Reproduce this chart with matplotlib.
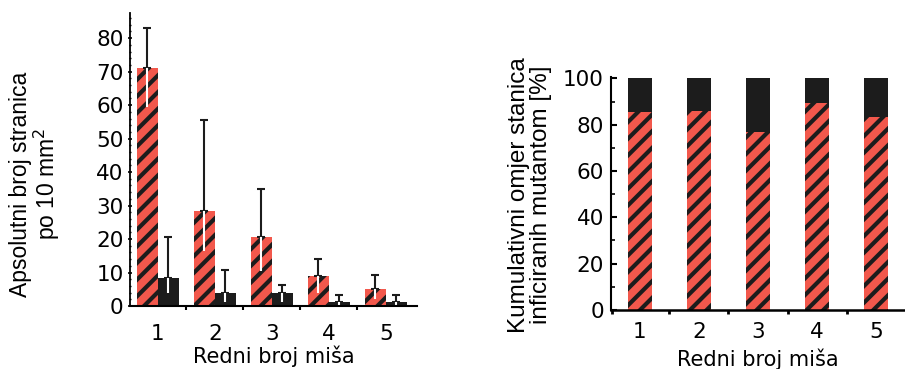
import numpy as np
import matplotlib.pyplot as plt
from matplotlib.ticker import MultipleLocator

# podaci
mice = [1, 2, 3, 4, 5]
mut_abs = [71, 28.5, 20.5, 9, 5.2]
mut_hi = [12, 27, 14.5, 5, 4]
mut_lo = [11.5, 12, 10, 5, 3]
wt_abs = [8.5, 3.8, 3.8, 1.3, 1.3]
wt_hi = [12, 7, 2.5, 2, 2]
wt_lo = [4.7, 2.5, 2.5, 1, 1]

mut_pct = [85.5, 86, 77, 89.5, 83.5]
wt_pct = [14.5, 14, 23, 10.5, 16.5]

RED = "#f2584c"
DARK = "#1c1c1c"

plt.rcParams["font.family"] = ["DejaVu Sans"]
plt.rcParams["hatch.linewidth"] = 3.0
plt.rcParams["hatch.color"] = DARK

fig = plt.figure(figsize=(9.05, 3.69), dpi=100)
ax1 = fig.add_axes([0.1436, 0.1707, 0.317, 0.794])
ax2 = fig.add_axes([0.675, 0.160, 0.325, 0.6306])

x = np.array(mice)

# lijevi graf
w = 0.37
ax1.bar(x - w/2, mut_abs, w, color=RED, edgecolor=DARK, hatch="//", linewidth=0)
ax1.bar(x + w/2, wt_abs, w, color=DARK, edgecolor=DARK, linewidth=0)
ax1.errorbar(x - w/2, mut_abs, yerr=[[0]*5, mut_hi], fmt="none", ecolor=DARK,
             elinewidth=1.5, capsize=3, capthick=1.5)
ax1.errorbar(x - w/2, mut_abs, yerr=[mut_lo, [0]*5], fmt="none", ecolor="white",
             elinewidth=1.5, capsize=0)
ax1.errorbar(x + w/2, wt_abs, yerr=[[0]*5, wt_hi], fmt="none", ecolor=DARK,
             elinewidth=1.5, capsize=3, capthick=1.5)
ax1.errorbar(x + w/2, wt_abs, yerr=[wt_lo, [0]*5], fmt="none", ecolor="white",
             elinewidth=1.5, capsize=0)
ax1.set_xlim(0.509, 5.544)
ax1.set_ylim(0, 87.5)
ax1.set_yticks(range(0, 81, 10))
ax1.yaxis.set_minor_locator(MultipleLocator(2))
ax1.set_xticks(mice)
ax1.set_xticks([1.5, 2.5, 3.5, 4.5], minor=True)
ax1.tick_params(axis="x", which="major", length=0, pad=13, labelsize=15.5)
ax1.tick_params(axis="x", which="minor", length=3, width=1.5, direction="out")
ax1.tick_params(axis="y", which="major", length=3, width=1.2, direction="inout", pad=3, labelsize=15.5)
ax1.tick_params(axis="y", which="minor", length=2, width=1, direction="inout")
ax1.set_xlabel("Redni broj miša", fontsize=15, labelpad=1)
ax1.set_ylabel("Apsolutni broj stranica\npo 10 mm$^2$", fontsize=16.5, family="Liberation Sans",
               linespacing=1.0)
ax1.yaxis.set_label_coords(-0.237, 0.416)
for s in ["top", "right"]:
    ax1.spines[s].set_visible(False)
ax1.spines["left"].set_linewidth(1.3)
ax1.spines["bottom"].set_linewidth(1.5)

# desni graf
w2 = 0.4
ax2.bar(x, mut_pct, w2, color=RED, edgecolor=DARK, hatch="//", linewidth=0)
ax2.bar(x, wt_pct, w2, bottom=mut_pct, color=DARK, linewidth=0)
ax2.set_xlim(0.508, 5.49)
ax2.set_ylim(0, 100.5)
ax2.set_yticks(range(0, 101, 20))
ax2.yaxis.set_minor_locator(MultipleLocator(10))
ax2.set_xticks(mice)
ax2.set_xticks([0.52, 1.5, 2.5, 3.5, 4.5], minor=True)
ax2.tick_params(axis="x", which="major", length=0, pad=9, labelsize=15.5)
ax2.tick_params(axis="x", which="minor", length=3, width=2, direction="out")
ax2.tick_params(axis="y", which="major", length=4, width=1.5, direction="in", pad=5, labelsize=15.5)
ax2.tick_params(axis="y", which="minor", length=3, width=1.2, direction="in")
ax2.set_xlabel("Redni broj miša", fontsize=15, labelpad=4)
ax2.set_ylabel("Kumulativni omjer stanica\ninficiranih mutantom [%]", fontsize=17.5,
               family="Liberation Sans", linespacing=1.0)
ax2.yaxis.set_label_coords(-0.20, 0.494)
for s in ["top", "right"]:
    ax2.spines[s].set_visible(False)
ax2.spines["left"].set_linewidth(1.5)
ax2.spines["bottom"].set_linewidth(1.8)

fig.savefig("out.png", dpi=100)
